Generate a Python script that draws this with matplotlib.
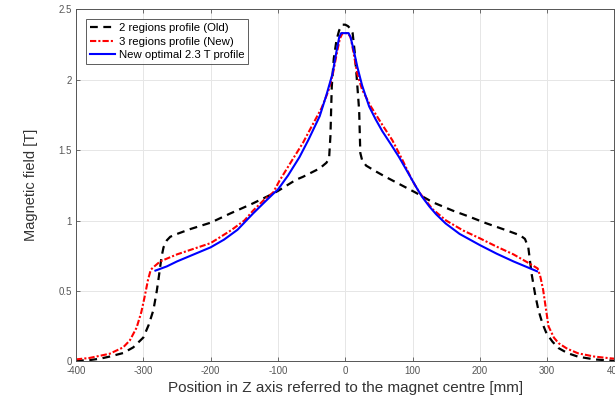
import matplotlib
matplotlib.use("Agg")
import matplotlib.pyplot as plt

# --- data ---
old_x = [-400, -380, -364, -350, -330, -315, -300, -292, -285, -280, -277, -273, -270, -265, -260,
         -250, -230, -200, -171, -138, -112, -100, -73, -63, -38, -28, -24, -22, -20, -17, -13, -9, -4,
         0, 4, 8, 11, 14, 17, 20.7, 22.4, 25, 28, 31, 45, 60, 80, 104, 130, 160, 183, 210, 240, 260,
         267, 272, 277, 282, 287, 293, 299, 308, 317, 330, 346, 370, 400]
old_y = [0.005, 0.01, 0.02, 0.035, 0.06, 0.10, 0.17, 0.26, 0.365, 0.50, 0.60, 0.74, 0.81, 0.86, 0.885,
         0.905, 0.94, 0.985, 1.05, 1.12, 1.18, 1.21, 1.29, 1.31, 1.37, 1.41, 1.44, 1.6, 1.95, 2.15, 2.28, 2.35, 2.39,
         2.39, 2.38, 2.36, 2.33, 2.2, 2.02, 1.78, 1.48, 1.43, 1.41, 1.39, 1.35, 1.31, 1.26, 1.20, 1.13, 1.07, 1.03, 0.98, 0.93, 0.895,
         0.87, 0.81, 0.62, 0.48, 0.365, 0.27, 0.2, 0.14, 0.095, 0.06, 0.034, 0.015, 0.005]

new_x = [-400, -380, -350, -330, -320, -310, -303, -298, -293, -289, -286, -275, -250, -225, -200, -170,
         -150, -137, -120, -107, -98, -80, -63, -53, -35, -25, -18, -12, -8, -4, 4, 8, 12, 18, 25, 38, 55, 70, 85,
         99, 110, 120, 130, 150, 175, 200, 225, 250, 272, 286, 290, 294, 298, 302, 310, 317, 330, 346, 370, 393, 400]
new_y = [0.015, 0.025, 0.055, 0.10, 0.15, 0.24, 0.35, 0.46, 0.58, 0.65, 0.665, 0.71, 0.76, 0.80, 0.84, 0.93,
         1.0, 1.07, 1.15, 1.2, 1.28, 1.42, 1.55, 1.64, 1.80, 1.92, 2.05, 2.2, 2.29, 2.33, 2.33, 2.3, 2.2, 2.04, 1.93, 1.81, 1.68, 1.57, 1.43,
         1.29, 1.2, 1.14, 1.08, 1.0, 0.93, 0.874, 0.815, 0.76, 0.70, 0.66, 0.6, 0.51, 0.38, 0.25, 0.17, 0.13, 0.09, 0.058, 0.035, 0.023, 0.02]

opt_x = [-282, -265, -250, -230, -215, -200, -180, -160, -137, -120, -107, -100, -85, -68, -55, -38, -28, -19,
         -13, -9, -6, 5, 8, 13, 18, 25, 35.5, 45, 55, 68, 80, 92, 104.5, 114, 125, 135, 149, 170, 200, 225, 250,
         265, 285]
opt_y = [0.645, 0.675, 0.71, 0.75, 0.78, 0.81, 0.865, 0.935, 1.05, 1.13, 1.19, 1.22, 1.32, 1.45, 1.57, 1.74, 1.89, 2.04,
         2.2, 2.3, 2.33, 2.33, 2.3, 2.2, 2.09, 1.96, 1.81, 1.72, 1.635, 1.54, 1.45, 1.35, 1.245, 1.17, 1.1, 1.045, 0.98, 0.905, 0.826, 0.765, 0.71,
         0.68, 0.64]

labels = ["2 regions profile (Old)", "3 regions profile (New)", "New optimal 2.3 T profile"]
x_ticks = [-400, -300, -200, -100, 0, 100, 200, 300, 400]
y_ticks = [0, 0.5, 1, 1.5, 2, 2.5]
x_label = "Position in Z axis referred to the magnet centre [mm]"
y_label = "Magnetic field [T]"

plt.rcParams['font.family'] = ['Liberation Sans', 'DejaVu Sans']

fig = plt.figure(figsize=(6.15, 3.99), dpi=100)
ax = fig.add_axes([0.1236, 0.094, 0.8755, 0.883])

ax.plot(old_x, old_y, color='black', linestyle=(0, (3.5, 2.5)), linewidth=1.6, label=labels[0])
ax.plot(new_x, new_y, color='red', linestyle=(0, (3, 1, 1, 1)), linewidth=1.5, label=labels[1])
ax.plot(opt_x, opt_y, color='blue', linestyle='-', linewidth=1.5, label=labels[2])

ax.set_xlim(-400, 400)
ax.set_ylim(0, 2.5)
ax.set_xticks(x_ticks)
ax.set_yticks(y_ticks)
ax.set_xticklabels([str(v) for v in x_ticks])
ax.set_yticklabels(['0', '0.5', '1', '1.5', '2', '2.5'])
ax.tick_params(direction='in', length=3, width=0.6, labelsize=7, colors='#555555',
               top=True, right=True, pad=3)
ax.grid(True, color='#e6e6e6', linewidth=0.7)
ax.set_axisbelow(True)
for s in ax.spines.values():
    s.set_color('#555555')
    s.set_linewidth(0.7)

ax.set_xlabel(x_label, fontsize=11, color='#333333', labelpad=4)
ax.set_ylabel(y_label, fontsize=10.5, color='#333333', labelpad=15)

leg = ax.legend(loc='upper left', fontsize=8.2, frameon=True, fancybox=False,
                edgecolor='#333333', borderpad=0.35, labelspacing=0.3, handlelength=2.2,
                handletextpad=0.3, borderaxespad=0.9)
leg.get_frame().set_linewidth(0.7)

fig.savefig('out.png', dpi=100)
